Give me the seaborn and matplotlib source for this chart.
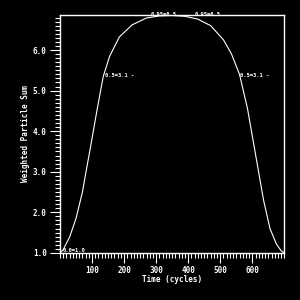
import matplotlib
matplotlib.use("Agg")
import matplotlib.pyplot as plt
import seaborn as sns
import pandas as pd
from matplotlib.ticker import MultipleLocator

# Curve
time_cycles = [0, 10, 30, 50, 70, 85, 95, 115, 135, 155, 185, 225, 270, 310,
               350, 390, 430, 470, 510, 535, 560, 585, 605, 615, 635, 655,
               675, 690, 700]
weighted_sum = [1.0, 1.08, 1.39, 1.85, 2.5, 3.17, 3.6, 4.5, 5.35, 5.85, 6.32,
                6.62, 6.79, 6.84, 6.85, 6.83, 6.76, 6.6, 6.25, 5.9, 5.4, 4.55,
                3.65, 3.2, 2.3, 1.6, 1.22, 1.05, 1.0]

# Marker labels on the curve
note_text = ["0.5=3.1 -", "0.5=3.1 -", "0.95=6.5", "0.95=6.5", "0.0=1.0"]
note_t = [140, 562, 283, 420, 8]
note_y = [5.38, 5.38, 6.87, 6.87, 1.07]

df = pd.DataFrame({"t": time_cycles, "w": weighted_sum})

sns.set_theme(style="dark", rc={
    "figure.facecolor": "black",
    "axes.facecolor": "black",
    "axes.edgecolor": "white",
    "text.color": "white",
    "xtick.color": "white",
    "ytick.color": "white",
    "axes.labelcolor": "white",
})
plt.rcParams["font.family"] = ["DejaVu Sans Mono"]

fig = plt.figure(figsize=(3, 3), dpi=100)
ax = fig.add_axes([0.2, 0.157, 0.748, 0.794])

sns.lineplot(data=df, x="t", y="w", color="white", linewidth=0.8, ax=ax)

for txt, tx, ty in zip(note_text, note_t, note_y):
    ax.text(tx, ty, txt, fontsize=4, color="white", ha="left", va="center",
            fontweight="bold")

ax.set_xlim(0, 700)
ax.set_ylim(1.0, 6.87)
ax.xaxis.set_major_locator(MultipleLocator(100))
ax.xaxis.set_minor_locator(MultipleLocator(10))
ax.yaxis.set_major_locator(MultipleLocator(1.0))
ax.yaxis.set_minor_locator(MultipleLocator(0.1))
ax.set_xticks([100, 200, 300, 400, 500, 600])
ax.set_yticks([1, 2, 3, 4, 5, 6])
ax.set_xticklabels(["100", "200", "300", "400", "500", "600"])
ax.set_yticklabels(["1.0", "2.0", "3.0", "4.0", "5.0", "6.0"])

ax.tick_params(which="major", direction="out", length=7, width=0.8,
               labelsize=5.5, pad=2.5, bottom=True, left=True)
ax.tick_params(which="minor", direction="out", length=3.6, width=0.8,
               bottom=True, left=True)
for lab in ax.get_xticklabels() + ax.get_yticklabels():
    lab.set_fontweight("bold")

for sp in ax.spines.values():
    sp.set_color("white")
    sp.set_linewidth(1)

ax.set_xlabel("Time (cycles)", fontsize=5.5, fontweight="bold", labelpad=0)
ax.set_ylabel("Weighted Particle Sum", fontsize=5.5, fontweight="bold", labelpad=2)
ax.grid(False)

fig.savefig("out.png", dpi=100, facecolor="black")
